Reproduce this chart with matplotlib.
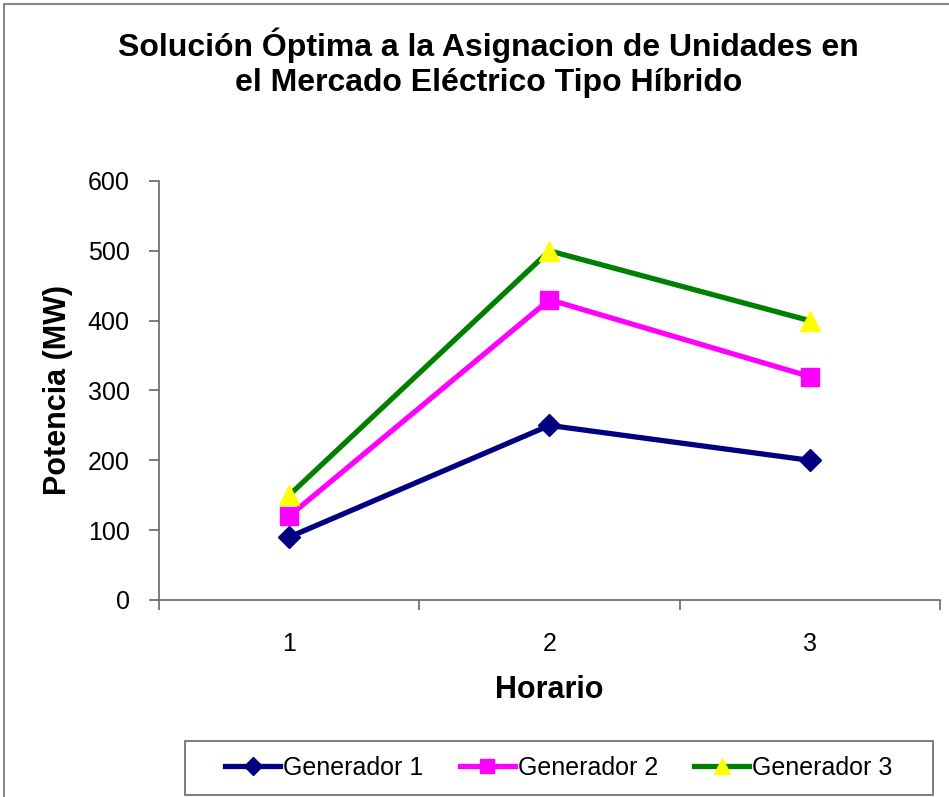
import matplotlib.pyplot as plt
from matplotlib.patches import Rectangle

plt.rcParams['font.family'] = ['Liberation Sans', 'DejaVu Sans']

horario = [1, 2, 3]
gen1 = [90, 250, 200]
gen2 = [120, 430, 320]
gen3 = [150, 500, 400]
nombres = ["Generador 1", "Generador 2", "Generador 3"]

fig = plt.figure(figsize=(9.49, 7.97), dpi=100)
ax = fig.add_axes([0.1675, 0.2472, 0.823, 0.5257])

# borde exterior del grafico
fig.patches.append(Rectangle((0.004, -0.01), 1.2, 1.005, transform=fig.transFigure,
                             fill=False, edgecolor="#888888", lw=1.5))

ax.plot(horario, gen1, color="#000080", lw=3.8, marker="D", ms=11,
        mfc="#000080", mec="#000080", label=nombres[0])
ax.plot(horario, gen2, color="#FF00FF", lw=3.8, marker="s", ms=13,
        mfc="#FF00FF", mec="#FF00FF", label=nombres[1])
ax.plot(horario, gen3, color="#008000", lw=3.8, marker="^", ms=15,
        mfc="#FFFF00", mec="#FFFF00", label=nombres[2])

ax.set_xlim(0.5, 3.5)
ax.set_ylim(0, 600)
ax.set_yticks(range(0, 601, 100))
ax.set_xticks(horario)
ax.set_xticks([0.5, 1.5, 2.5, 3.5], minor=True)
ax.tick_params(axis="x", which="major", length=0, pad=23, labelsize=18)
ax.tick_params(axis="x", which="minor", length=7, width=1.2, color="#666666")
ax.tick_params(axis="y", length=7, width=1.2, color="#666666", labelsize=18, pad=14)

for s in ["top", "right"]:
    ax.spines[s].set_visible(False)
for s in ["left", "bottom"]:
    ax.spines[s].set_color("#666666")
    ax.spines[s].set_linewidth(1.2)

ax.set_xlabel("Horario", fontsize=22, fontweight="bold", labelpad=14)
ax.set_ylabel("Potencia (MW)", fontsize=22, fontweight="bold", labelpad=11)

fig.text(0.515, 0.921, "Solución Óptima a la Asignacion de Unidades en\nel Mercado Eléctrico Tipo Híbrido",
         ha="center", va="center", fontsize=23, fontweight="bold", linespacing=1.2)

# caja de la leyenda
fig.patches.append(Rectangle((0.195, 0.0025), 0.788, 0.0678, transform=fig.transFigure,
                             fill=False, edgecolor="#666666", lw=1.2))
leg = fig.legend(loc="center", bbox_to_anchor=(0.589, 0.0364), ncol=3, frameon=False,
                 fontsize=18, handlelength=2.2, handletextpad=0.12, columnspacing=1.45,
                 borderpad=0, markerscale=0.8, borderaxespad=0)

fig.savefig("out.png", dpi=100)
